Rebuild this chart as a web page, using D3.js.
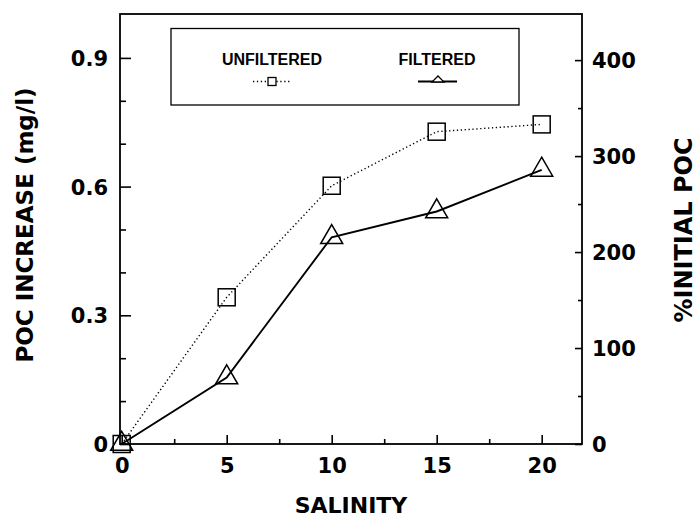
<!DOCTYPE html>
<html>
<head>
<meta charset="utf-8">
<script src="https://cdn.jsdelivr.net/npm/d3@7"></script>
<style>
  html, body { margin: 0; padding: 0; background: #fff; }
  svg { display: block; }
  .tick text { font-family: "DejaVu Sans", sans-serif; font-weight: bold; }
</style>
</head>
<body>
<div class="ChartWrapper"></div>
<script>
// data
const salinity = [0, 5, 10, 15, 20];
const unfiltered = [0, 0.342, 0.602, 0.728, 0.745];
const filtered = [0, 0.155, 0.482, 0.542, 0.639];

const xTicks = [0, 5, 10, 15, 20];
const xMinorTicks = [2.5, 7.5, 12.5, 17.5];
const leftTicks = [0, 0.3, 0.6, 0.9];
const leftTickLabels = ['0', '0.3', '0.6', '0.9'];
const leftMinorTicks = [0.1, 0.2, 0.4, 0.5, 0.7, 0.8];
const rightTicks = [0, 100, 200, 300, 400];
const rightMinorTicks = [50, 150, 250, 350];

const seriesNames = ['UNFILTERED', 'FILTERED'];

const CHART = {
  width: 698,
  height: 518,
  frame: { left: 120, right: 582, top: 14, bottom: 444 },
  xZero: 121.7,
  xTwenty: 541.7,
}

const svg = d3.select('.ChartWrapper')
  .append('svg')
  .attr('width', CHART.width)
  .attr('height', CHART.height);

const F = CHART.frame;

const x = d3.scaleLinear()
  .domain([0, 20])
  .range([CHART.xZero, CHART.xTwenty]);

const yLeft = d3.scaleLinear()
  .domain([0, 1])
  .range([F.bottom, F.top + 1]);

const yRight = d3.scaleLinear()
  .domain([0, 447])
  .range([F.bottom, F.top + 1]);

const styleAxis = (g, size) => {
  g.select('.domain').remove();
  g.attr('font-family', null).attr('font-size', null);
  g.selectAll('.tick line').attr('stroke', '#000').attr('stroke-width', 1.6);
  g.selectAll('.tick text').attr('font-size', size).attr('fill', '#000');
};

// x axis
svg.append('g')
  .attr('transform', `translate(0, ${F.bottom})`)
  .call(d3.axisBottom(x).tickValues(xTicks).tickSizeInner(-9).tickSizeOuter(0).tickPadding(14))
  .call(g => styleAxis(g, 21))
  .call(g => g.selectAll('.tick text').attr('dy', '0.71em'));

svg.append('g')
  .attr('transform', `translate(0, ${F.bottom})`)
  .call(d3.axisBottom(x).tickValues(xMinorTicks).tickSizeInner(-5).tickSizeOuter(0).tickFormat(''))
  .call(g => styleAxis(g, 21));

// left axis
svg.append('g')
  .attr('transform', `translate(${F.left}, 0)`)
  .call(d3.axisLeft(yLeft).tickValues(leftTicks).tickSizeInner(-11).tickSizeOuter(0).tickPadding(12)
    .tickFormat((d, i) => leftTickLabels[i]))
  .call(g => styleAxis(g, 21))
  .call(g => g.selectAll('.tick text').attr('dy', '0.36em'));

svg.append('g')
  .attr('transform', `translate(${F.left}, 0)`)
  .call(d3.axisLeft(yLeft).tickValues(leftMinorTicks).tickSizeInner(-6).tickSizeOuter(0).tickFormat(''))
  .call(g => styleAxis(g, 21));

// right axis
svg.append('g')
  .attr('transform', `translate(${F.right}, 0)`)
  .call(d3.axisRight(yRight).tickValues(rightTicks).tickSizeInner(-7).tickSizeOuter(0).tickPadding(10))
  .call(g => styleAxis(g, 21))
  .call(g => g.selectAll('.tick text').attr('dy', '0.36em'));

svg.append('g')
  .attr('transform', `translate(${F.right}, 0)`)
  .call(d3.axisRight(yRight).tickValues(rightMinorTicks).tickSizeInner(-4).tickSizeOuter(0).tickFormat(''))
  .call(g => styleAxis(g, 21));

// frame
svg.append('rect')
  .attr('x', F.left)
  .attr('y', F.top)
  .attr('width', F.right - F.left)
  .attr('height', F.bottom - F.top)
  .attr('fill', 'none')
  .attr('stroke', '#000')
  .attr('stroke-width', 1.8);

// lines
const line = d3.line()
  .x(d => x(d[0]))
  .y(d => yLeft(d[1]));

const unfData = salinity.map((s, i) => [s, unfiltered[i]]);
const filData = salinity.map((s, i) => [s, filtered[i]]);

svg.append('path')
  .datum(unfData)
  .attr('d', line)
  .attr('fill', 'none')
  .attr('stroke', '#000')
  .attr('stroke-width', 1.4)
  .attr('stroke-dasharray', '1.3,2.6');

svg.append('path')
  .datum(filData)
  .attr('d', line)
  .attr('fill', 'none')
  .attr('stroke', '#000')
  .attr('stroke-width', 1.9);

// markers
const sq = 17;
svg.append('g')
  .selectAll('rect')
  .data(unfData)
  .enter()
  .append('rect')
  .attr('x', d => x(d[0]) - sq / 2)
  .attr('y', d => yLeft(d[1]) - sq / 2)
  .attr('width', sq)
  .attr('height', sq)
  .attr('fill', 'none')
  .attr('stroke', '#000')
  .attr('stroke-width', 1.5);

const triangle = (cx, cy, w, h) => {
  // centroid at (cx, cy)
  const top = cy - h * 2 / 3;
  const base = cy + h / 3;
  return `M${cx},${top}L${cx + w / 2},${base}L${cx - w / 2},${base}Z`;
};

svg.append('g')
  .selectAll('path')
  .data(filData)
  .enter()
  .append('path')
  .attr('d', d => triangle(x(d[0]), yLeft(d[1]), 22, 19))
  .attr('fill', 'none')
  .attr('stroke', '#000')
  .attr('stroke-width', 1.5)
  .attr('stroke-linejoin', 'miter');

// legend
const legend = svg.append('g').classed('Legend', true);

legend.append('rect')
  .attr('x', 171)
  .attr('y', 28.5)
  .attr('width', 348)
  .attr('height', 76.5)
  .attr('fill', 'none')
  .attr('stroke', '#000')
  .attr('stroke-width', 1.3);

const legendX = [272, 437];
legend.selectAll('text')
  .data(seriesNames)
  .enter()
  .append('text')
  .attr('x', (d, i) => legendX[i])
  .attr('y', 65)
  .attr('text-anchor', 'middle')
  .attr('font-family', '"Liberation Sans", Arial, sans-serif')
  .attr('font-weight', 'bold')
  .attr('font-size', 16)
  .text(d => d);

legend.append('line')
  .attr('x1', 253).attr('x2', 291)
  .attr('y1', 81.5).attr('y2', 81.5)
  .attr('stroke', '#000')
  .attr('stroke-width', 1.4)
  .attr('stroke-dasharray', '1.3,2.6');

legend.append('rect')
  .attr('x', 268).attr('y', 77.5)
  .attr('width', 8).attr('height', 8)
  .attr('fill', '#fff')
  .attr('stroke', '#000')
  .attr('stroke-width', 1.3);

legend.append('line')
  .attr('x1', 418).attr('x2', 457)
  .attr('y1', 81.5).attr('y2', 81.5)
  .attr('stroke', '#000')
  .attr('stroke-width', 1.9);

legend.append('path')
  .attr('d', `M438,76L444,82L432,82Z`)
  .attr('fill', '#fff')
  .attr('stroke', '#000')
  .attr('stroke-width', 1.3);

// axis titles
const title = (t, size) => svg.append('text')
  .attr('font-family', '"DejaVu Sans", sans-serif')
  .attr('font-weight', 'bold')
  .attr('font-size', size)
  .attr('text-anchor', 'middle')
  .attr('fill', '#000')
  .text(t);

title('SALINITY', 22)
  .attr('x', 351)
  .attr('y', 513);

title('POC INCREASE (mg/l)', 23)
  .attr('transform', 'translate(33, 225) rotate(-90)');

title('%INITIAL POC', 24)
  .attr('transform', 'translate(692, 230) rotate(-90)');
</script>
</body>
</html>
